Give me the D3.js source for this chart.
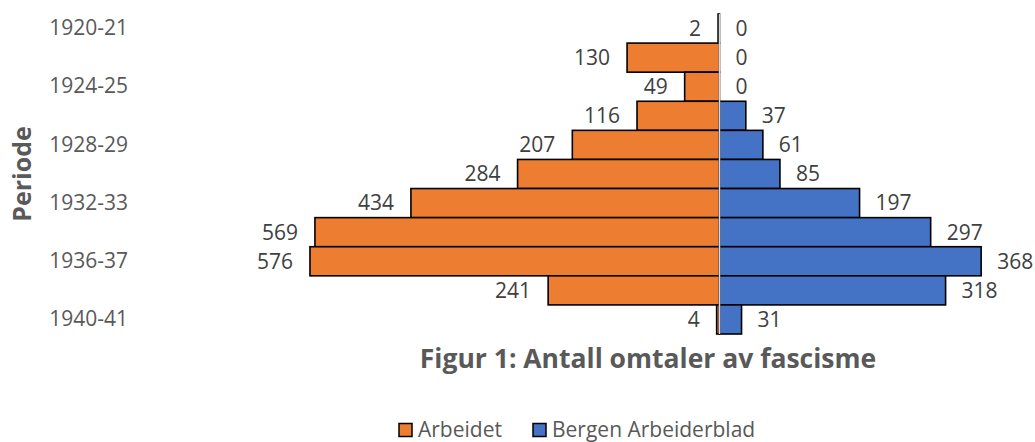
<!DOCTYPE html>
<html>
<head>
<meta charset="utf-8">
<script src="https://cdn.jsdelivr.net/npm/d3@7"></script>
<style>
  body { margin: 0; background: #fff; }
  svg text { font-family: "Open Sans", "Noto Sans", sans-serif; }
</style>
</head>
<body>
<div id="chart"></div>
<script>
// Data
const periods = ["1920-21", "1922-23", "1924-25", "1926-27", "1928-29", "1930-31",
                 "1932-33", "1934-35", "1936-37", "1938-39", "1940-41"];
const arbeidet = [2, 130, 49, 116, 207, 284, 434, 569, 576, 241, 4];
const bergen = [0, 0, 0, 37, 61, 85, 197, 297, 368, 318, 31];
const shownTicks = ["1920-21", "1924-25", "1928-29", "1932-33", "1936-37", "1940-41"];
const seriesNames = ["Arbeidet", "Bergen Arbeiderblad"];
const seriesColors = ["#ED7D31", "#4472C4"];

const W = 1035, H = 442;
const svg = d3.select("#chart").append("svg")
    .attr("width", W)
    .attr("height", H);

// center axis is at about x=719.5, 0.711 px per mention
var x = d3.scaleLinear()
    .domain([-600, 400])
    .range([719.5 - 600 * 0.711, 719.5 + 400 * 0.711]);
var y = d3.scaleBand()
    .domain(periods)
    .range([14, 334])
    .padding(0);

const rows = periods.map(function(p, i) {
    return { period: p, a: arbeidet[i], b: bergen[i] };
});

// Arbeidet to the left
svg.append("g").selectAll("rect")
    .data(rows)
    .enter()
    .append("rect")
    .attr("x", function(d) { return x(-d.a); })
    .attr("y", function(d) { return y(d.period); })
    .attr("width", function(d) { return x(0) - x(-d.a); })
    .attr("height", y.bandwidth())
    .attr("fill", seriesColors[0])
    .attr("stroke", "#000")
    .attr("stroke-width", 1.6);

// Bergen Arbeiderblad to the right
svg.append("g").selectAll("rect")
    .data(rows.filter(function(d) { return d.b > 0; }))
    .enter()
    .append("rect")
    .attr("x", x(0))
    .attr("y", function(d) { return y(d.period); })
    .attr("width", function(d) { return x(d.b) - x(0); })
    .attr("height", y.bandwidth())
    .attr("fill", seriesColors[1])
    .attr("stroke", "#000")
    .attr("stroke-width", 1.6);

// vertical axis line
svg.append("line")
    .attr("x1", x(0)).attr("x2", x(0))
    .attr("y1", y.range()[0]).attr("y2", y.range()[1])
    .attr("stroke", "#d9d9d9")
    .attr("stroke-width", 1.5);

// data labels
svg.append("g").selectAll("text")
    .data(rows)
    .enter()
    .append("text")
    .attr("x", function(d) { return x(-d.a) - 17; })
    .attr("y", function(d) { return y(d.period) + y.bandwidth() / 2; })
    .attr("dy", "0.35em")
    .attr("text-anchor", "end")
    .attr("font-size", 21)
    .attr("fill", "#404040")
    .text(function(d) { return d.a; });

svg.append("g").selectAll("text")
    .data(rows)
    .enter()
    .append("text")
    .attr("x", function(d) { return x(d.b) + 16; })
    .attr("y", function(d) { return y(d.period) + y.bandwidth() / 2; })
    .attr("dy", "0.35em")
    .attr("text-anchor", "start")
    .attr("font-size", 21)
    .attr("fill", "#404040")
    .text(function(d) { return d.b; });

// category axis, every other label
var yAxis = d3.axisLeft(y)
    .tickValues(shownTicks)
    .tickSize(0)
    .tickPadding(0);
var ax = svg.append("g")
    .attr("transform", "translate(128,0)")
    .call(yAxis);
ax.select(".domain").remove();
ax.selectAll("text")
    .attr("font-size", 21)
    .attr("fill", "#595959")
    .style("font-family", '"Open Sans", "Noto Sans", sans-serif');

// axis title
svg.append("text")
    .attr("transform", "translate(22,174) rotate(-90)")
    .attr("dy", "0.35em")
    .attr("text-anchor", "middle")
    .attr("font-size", 25)
    .attr("font-weight", "bold")
    .attr("fill", "#595959")
    .text("Periode");

// chart title (below the plot)
svg.append("text")
    .attr("x", 648)
    .attr("y", 359)
    .attr("dy", "0.35em")
    .attr("text-anchor", "middle")
    .attr("font-size", 26.5)
    .attr("font-weight", "bold")
    .attr("fill", "#595959")
    .text("Figur 1: Antall omtaler av fascisme");

// legend
var legendX = [399, 533];
var legend = svg.append("g").selectAll("g")
    .data(seriesNames)
    .enter()
    .append("g")
    .attr("transform", function(d, i) { return "translate(" + legendX[i] + ",430)"; });
legend.append("rect")
    .attr("x", 0).attr("y", -6.5)
    .attr("width", 13).attr("height", 13)
    .attr("fill", function(d, i) { return seriesColors[i]; })
    .attr("stroke", "#000")
    .attr("stroke-width", 1.5);
legend.append("text")
    .attr("x", 19)
    .attr("dy", "0.35em")
    .attr("font-size", 21)
    .attr("fill", "#595959")
    .text(function(d) { return d; });
</script>
</body>
</html>
